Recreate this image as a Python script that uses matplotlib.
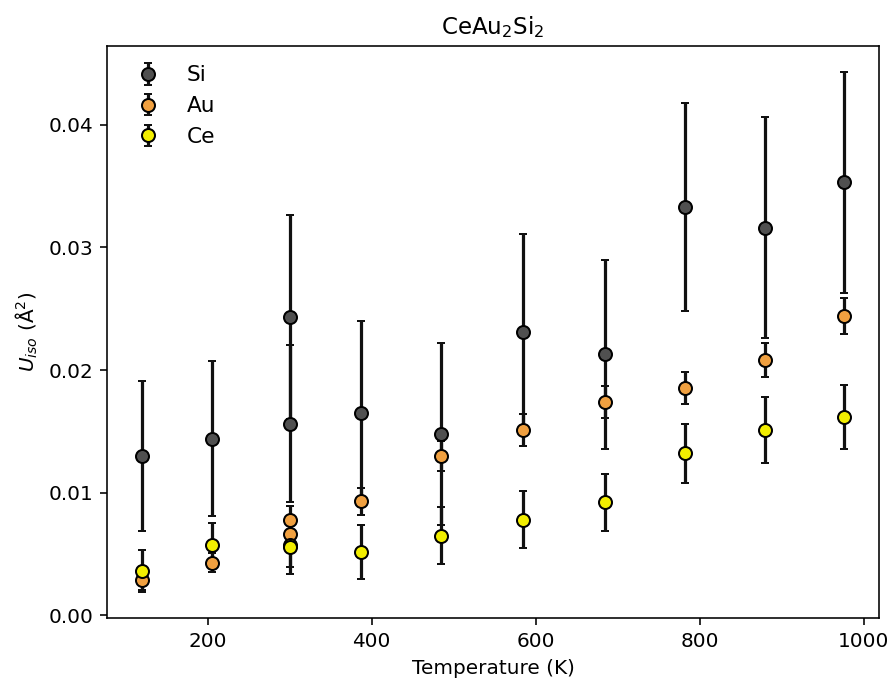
import matplotlib
matplotlib.use('Agg')
import matplotlib.pyplot as plt

# temperatures (K); 300 K was measured twice
temps = [120, 205, 300, 300, 387, 484, 585, 685, 782, 880, 976]

si = [0.0130, 0.0144, 0.0243, 0.0156, 0.0165, 0.0148, 0.0231, 0.0213, 0.0333, 0.0316, 0.0353]
si_err = [0.0061, 0.0063, 0.0083, 0.0064, 0.0075, 0.0074, 0.0080, 0.0077, 0.0085, 0.0090, 0.0090]

au = [0.0029, 0.0043, 0.0078, 0.0066, 0.0093, 0.0130, 0.0151, 0.0174, 0.0185, 0.0208, 0.0244]
au_err = [0.0008, 0.0008, 0.0011, 0.0010, 0.0011, 0.0012, 0.0013, 0.0013, 0.0013, 0.0014, 0.0015]

ce = [0.0036, 0.0057, 0.0057, 0.0056, 0.0052, 0.0065, 0.0078, 0.0092, 0.0132, 0.0151, 0.0162]
ce_err = [0.0017, 0.0018, 0.0018, 0.0022, 0.0022, 0.0023, 0.0023, 0.0023, 0.0024, 0.0027, 0.0026]

dpi = 144
fig = plt.figure(figsize=(890 / dpi, 686 / dpi), dpi=dpi)
ax = fig.add_axes([107 / 890, 1 - 618 / 686, (879 - 107) / 890, (618 - 46) / 686])

series = [
    ('Si', si, si_err, '#505050'),
    ('Au', au, au_err, '#f0a040'),
    ('Ce', ce, ce_err, '#f2ee00'),
]
for label, vals, errs, color in series:
    ax.errorbar(temps, vals, yerr=errs, fmt='o', ms=6.5, mfc=color, mec='k',
                mew=1.0, ecolor='#111111', elinewidth=1.6, capsize=2.2,
                capthick=1.6, label=label)

ax.set_title('CeAu$_2$Si$_2$', fontsize=11.5)
ax.set_xlabel('Temperature (K)')
ax.set_ylabel(r'$U_{iso}$ ($\mathrm{\AA}^2$)')
ax.set_yticks([0.00, 0.01, 0.02, 0.03, 0.04])
ax.legend(loc='upper left', frameon=False, fontsize=10.8)

fig.savefig('out.png', dpi=dpi)
